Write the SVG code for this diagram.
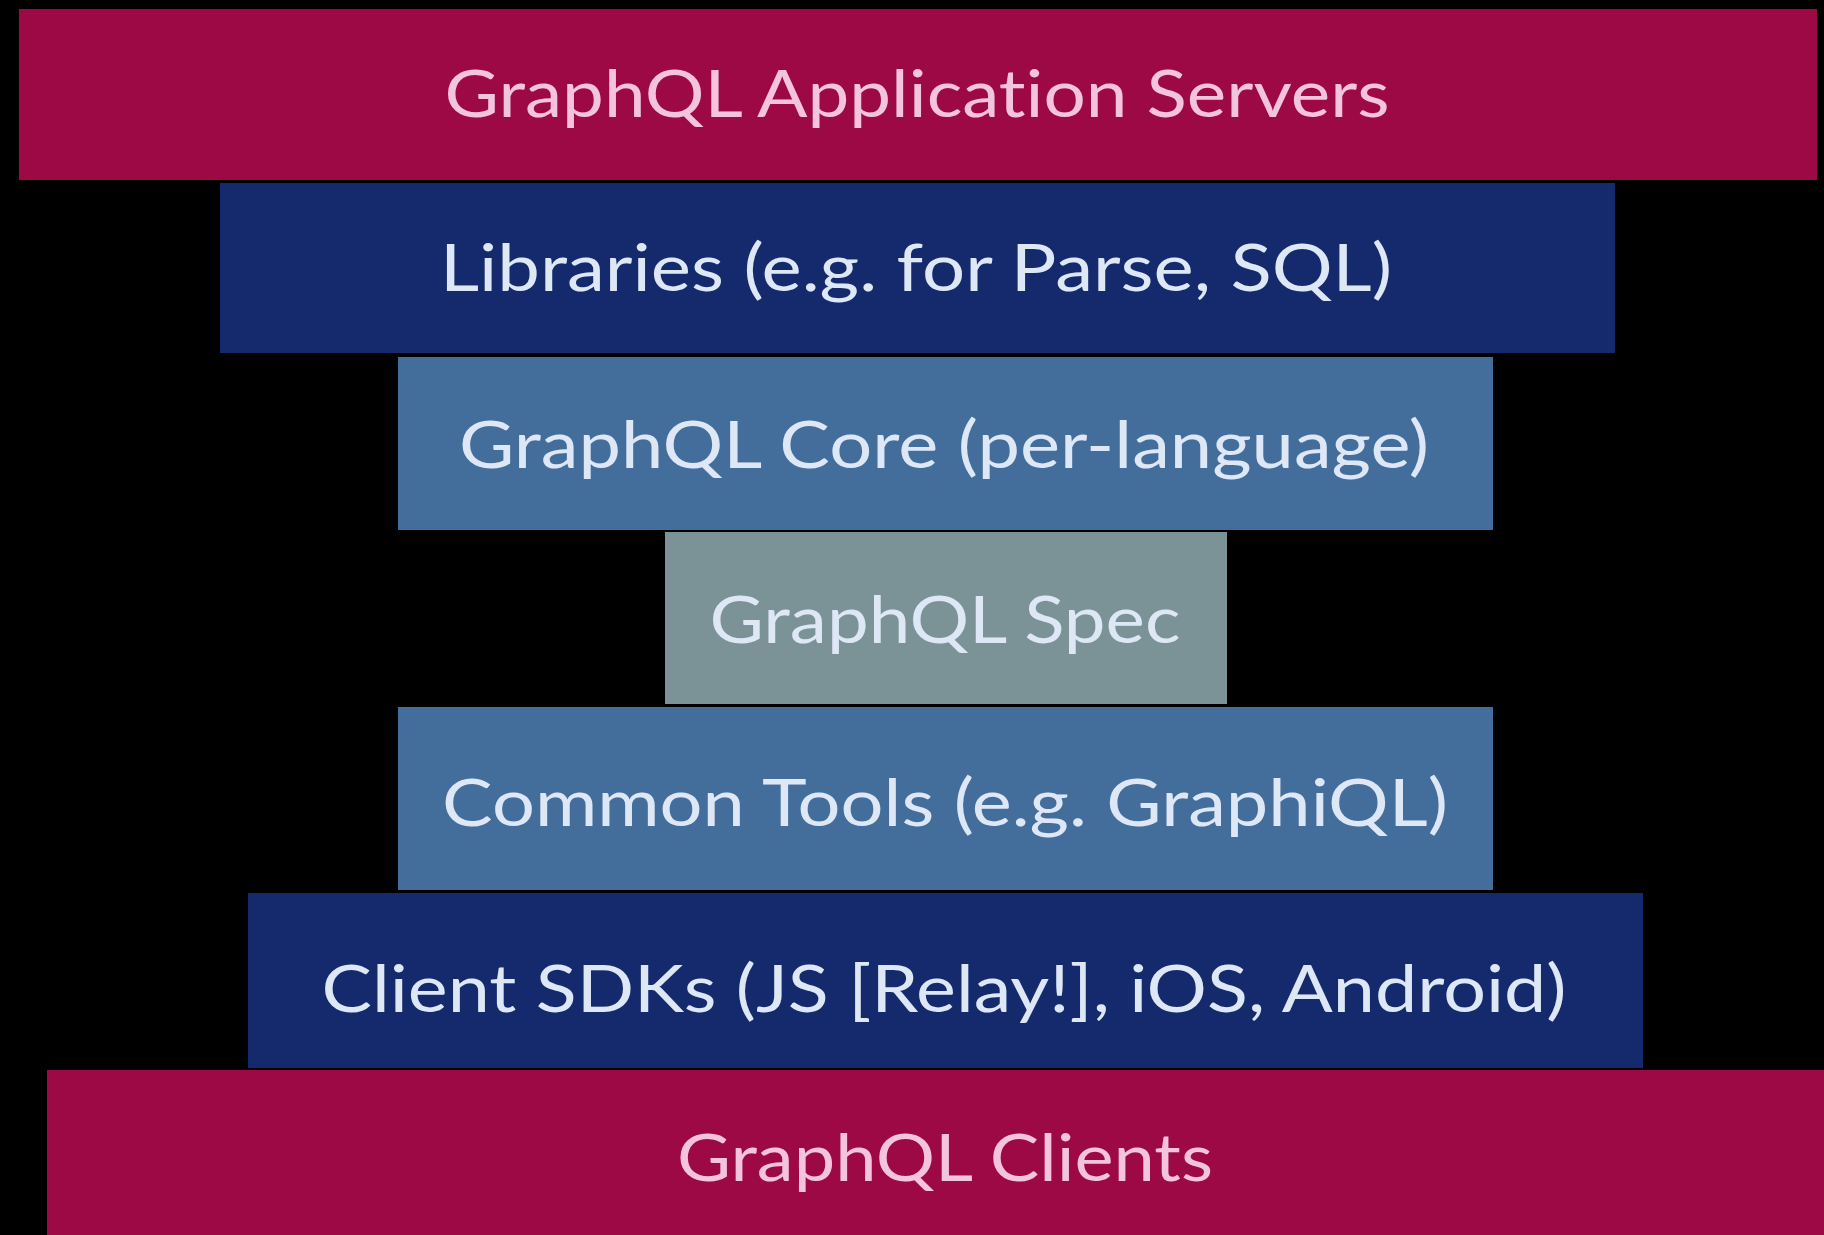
<svg xmlns="http://www.w3.org/2000/svg" width="1824" height="1235" viewBox="0 0 1824 1235">
<style>
.red{fill:#9c0944}
.dark{fill:#152a6c}
.mid{fill:#436d9b}
.spec{fill:#7b9397}
text{font-family:Lato,"Open Sans","Liberation Sans",sans-serif;font-size:66px;text-anchor:middle;font-variant-ligatures:none;font-feature-settings:"liga" 0,"clig" 0,"dlig" 0}
.tr{fill:#f4c4de}
.tb{fill:#dde7f6}
</style>
<rect x="0" y="0" width="1824" height="1235" fill="#000"/>
<g id="servers"><rect class="red" x="19" y="9" width="1798" height="171"/><text class="tr" x="917" y="117" textLength="945" lengthAdjust="spacingAndGlyphs">GraphQL Application Servers</text></g>
<g id="libraries"><rect class="dark" x="220" y="183" width="1395" height="170"/><text class="tb" x="916" y="291" textLength="952" lengthAdjust="spacingAndGlyphs">Libraries (e.g. for Parse, SQL)</text></g>
<g id="core"><rect class="mid" x="398" y="357" width="1095" height="173"/><text class="tb" x="944" y="468" textLength="970" lengthAdjust="spacingAndGlyphs">GraphQL Core (per-language)</text></g>
<g id="spec"><rect class="spec" x="665" y="532" width="562" height="172"/><text class="tb" x="945" y="643" textLength="471" lengthAdjust="spacingAndGlyphs">GraphQL Spec</text></g>
<g id="tools"><rect class="mid" x="398" y="707" width="1095" height="183"/><text class="tb" x="945" y="826" textLength="1006" lengthAdjust="spacingAndGlyphs">Common Tools (e.g. GraphiQL)</text></g>
<g id="sdks"><rect class="dark" x="248" y="893" width="1395" height="175"/><text class="tb" x="944" y="1012" textLength="1245" lengthAdjust="spacingAndGlyphs">Client SDKs (JS [Relay!], iOS, Android)</text></g>
<g id="clients"><rect class="red" x="47" y="1070" width="1777" height="165"/><text class="tr" x="945" y="1181" textLength="536" lengthAdjust="spacingAndGlyphs">GraphQL Clients</text></g>
<g id="connectors"/>
</svg>
